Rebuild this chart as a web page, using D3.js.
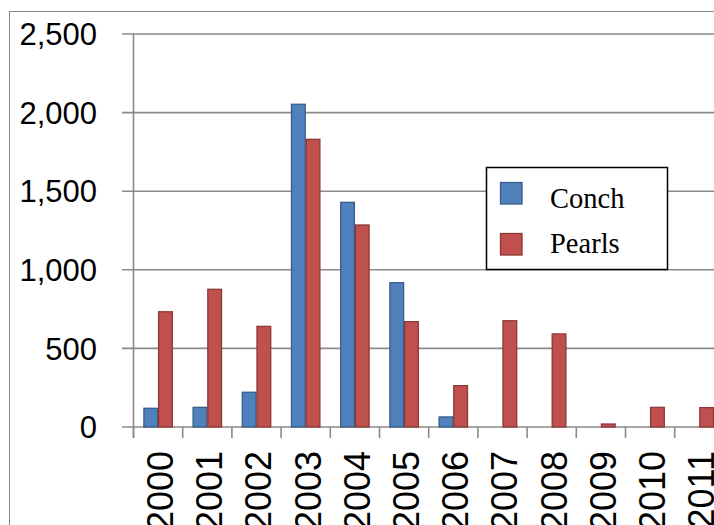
<!DOCTYPE html>
<html>
<head>
<meta charset="utf-8">
<script src="https://cdn.jsdelivr.net/npm/d3@7"></script>
<style>
  html, body { margin: 0; padding: 0; background: #fff; overflow: hidden; }
  svg { display: block; }
</style>
</head>
<body>
<svg id="chart" width="714" height="525"></svg>
<script>
const years = ["2000","2001","2002","2003","2004","2005","2006","2007","2008","2009","2010","2011"];
const conch = [119, 125, 221, 2053, 1429, 918, 64, 0, 0, 0, 0, 0];
const pearls = [733, 876, 640, 1830, 1285, 670, 263, 676, 592, 19, 125, 123];
const seriesNames = ["Conch", "Pearls"];
const yTicks = [0, 500, 1000, 1500, 2000, 2500];

const colors = { Conch: { fill: "#4F81BD", stroke: "#385D8A" }, Pearls: { fill: "#C0504D", stroke: "#8C3836" } };

const svg = d3.select("#chart");
const W = 714, H = 525;

// outer frame
svg.append("rect").attr("x", 9.5).attr("y", 11.5).attr("width", 900).attr("height", 700)
  .attr("fill", "#fff").attr("stroke", "#888").attr("stroke-width", 1);

const x0 = 133.5, x1 = 133.5 + 12 * 49.2;
const y = d3.scaleLinear().domain([0, 2500]).range([427, 34]);
const x = d3.scaleBand().domain(years).range([x0, x1]).padding(0);
const xs = d3.scaleBand().domain(seriesNames).range([0, x.bandwidth()]).paddingInner(0).paddingOuter(0.673);

// gridlines
const grid = svg.append("g");
grid.selectAll("line").data(yTicks).join("line")
  .attr("x1", 122).attr("x2", W + 20)
  .attr("y1", d => y(d)).attr("y2", d => y(d))
  .attr("stroke", "#8a8a8a").attr("stroke-width", 1.6);

// y axis line
svg.append("line").attr("x1", x0).attr("x2", x0).attr("y1", y(2500)).attr("y2", 438)
  .attr("stroke", "#8a8a8a").attr("stroke-width", 1.6);

// x ticks at category boundaries
const bounds = years.map(d => x(d)).concat([x1]);
svg.append("g").selectAll("line").data(bounds).join("line")
  .attr("x1", d => d).attr("x2", d => d).attr("y1", y(0)).attr("y2", 438)
  .attr("stroke", "#8a8a8a").attr("stroke-width", 1.6);

// y labels
svg.append("g").selectAll("text").data(yTicks).join("text")
  .attr("x", 97).attr("y", d => y(d)).attr("dy", "0.36em")
  .attr("text-anchor", "end")
  .attr("font-family", "'Liberation Sans', Arial, sans-serif")
  .attr("font-size", 31).attr("fill", "#000")
  .text(d => d3.format(",")(d));

// bars
const data = years.map((yr, i) => ({ year: yr, Conch: conch[i], Pearls: pearls[i] }));
const groups = svg.append("g").selectAll("g").data(data).join("g")
  .attr("transform", d => `translate(${x(d.year)},0)`);
groups.selectAll("rect").data(d => seriesNames.map(s => ({ s, v: d[s] })).filter(e => e.v > 0)).join("rect")
  .attr("x", d => xs(d.s) + 0.5)
  .attr("width", xs.bandwidth() - 1)
  .attr("y", d => y(d.v))
  .attr("height", d => y(0) - y(d.v))
  .attr("fill", d => colors[d.s].fill)
  .attr("stroke", d => colors[d.s].stroke)
  .attr("stroke-width", 1.3);

// x labels rotated
svg.append("g").selectAll("text").data(years).join("text")
  .attr("transform", d => `translate(${x(d) + x.bandwidth() / 2 + 2},451) rotate(-90)`)
  .attr("dy", "0.36em")
  .attr("text-anchor", "end")
  .attr("font-family", "'Liberation Sans', Arial, sans-serif")
  .attr("font-size", 36).attr("fill", "#000")
  .text(d => d);

// legend
const lg = svg.append("g");
lg.append("rect").attr("x", 486.5).attr("y", 167.5).attr("width", 181).attr("height", 102)
  .attr("fill", "#fff").attr("stroke", "#000").attr("stroke-width", 1.5);
const legY = [182.5, 233.5];
seriesNames.forEach((s, i) => {
  lg.append("rect").attr("x", 500.5).attr("y", legY[i]).attr("width", 21.5).attr("height", 21.5)
    .attr("fill", colors[s].fill).attr("stroke", colors[s].stroke).attr("stroke-width", 1.3);
  lg.append("text").attr("x", 550).attr("y", [208, 252.7][i])
    .attr("font-family", "'Liberation Serif', 'Times New Roman', serif")
    .attr("font-size", 28.5).attr("fill", "#000").text(s);
});
</script>
</body>
</html>
